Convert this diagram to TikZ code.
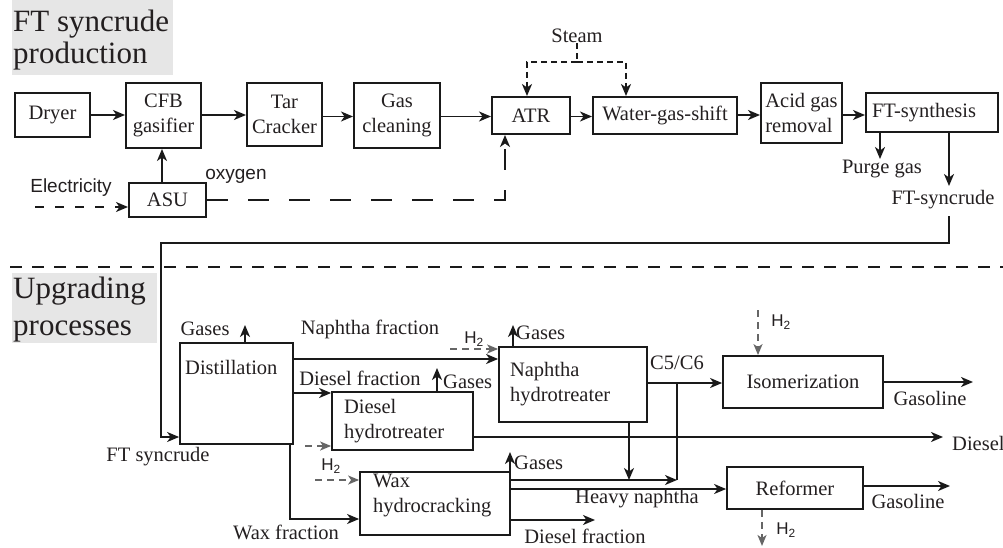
\documentclass[tikz,border=0pt]{standalone}
\usepackage{fontspec}
\setmainfont{Liberation Serif}
\newfontfamily\labsans{Liberation Sans}
\usetikzlibrary{arrows.meta,calc}
\definecolor{txtc}{HTML}{231F20}
\definecolor{linec}{HTML}{1A1A1A}
\definecolor{grayc}{HTML}{666666}
\definecolor{titlebg}{HTML}{E6E6E6}
\begin{document}
\begin{tikzpicture}[x=1pt,y=-1pt,
  font=\fontsize{20.5}{25}\selectfont,
  tx/.style={text=txtc, inner sep=0pt},
  ttl/.style={text=txtc, inner sep=0pt, anchor=base west, font=\fontsize{31}{31}\selectfont},
  sl/.style={text=txtc, inner sep=0pt, font=\labsans\fontsize{19}{22}\selectfont},
  hl/.style={text=txtc, inner sep=0pt, font=\labsans\fontsize{17}{20}\selectfont},
  box/.style={draw=linec, line width=2pt, inner sep=0pt, align=center, text=txtc},
  lbox/.style={draw=linec, line width=1.8pt, inner sep=0pt, text=txtc},
  tip/.style={-{Stealth[length=12pt,width=10pt,inset=3.5pt]}},
  arr/.style={draw=linec, line width=1.8pt, tip},
  ln/.style={draw=linec, line width=1.8pt},
  edash/.style={draw=linec, line width=1.8pt, dash pattern=on 9pt off 11pt},
  ldash/.style={draw=linec, line width=1.8pt, dash pattern=on 21pt off 20pt},
  sdash/.style={draw=linec, line width=1.8pt, dash pattern=on 6pt off 4pt},
  sepdash/.style={draw=linec, line width=1.8pt, dash pattern=on 12pt off 10pt},
  garr/.style={draw=grayc, line width=1.8pt, dash pattern=on 7pt off 5pt, -{Stealth[length=11pt,width=9pt,inset=3pt]}},
]
\useasboundingbox (0,0) rectangle (1003,548);

% ---------- titles ----------
\fill[titlebg] (12,0) rectangle (173,75);
\node[ttl] (t1a) at (13,32) {FT syncrude};
\node[ttl] (t1b) at (13,64) {production};
\fill[titlebg] (12,273) rectangle (157,343);
\node[ttl] (t2a) at (13,298) {Upgrading};
\node[ttl] (t2b) at (13,335) {processes};

% ---------- top boxes ----------
\node[box, minimum width=75pt, minimum height=44pt] (dryer) at (52.5,115) {Dryer};
\node[box, minimum width=75pt, minimum height=65pt] (cfb) at (163.5,115.5) {CFB\\gasifier};
\node[box, minimum width=75pt, minimum height=63pt] (tar) at (284.5,114.5) {Tar\\Cracker};
\node[box, minimum width=86pt, minimum height=65pt] (gasc) at (397,115.5) {Gas\\cleaning};
\node[box, minimum width=78pt, minimum height=37pt] (atr) at (531,115.5) {ATR};
\node[box, minimum width=144pt, minimum height=37pt] (wgs) at (665,115.5) {Water-gas-shift};
\node[box, minimum width=81pt, minimum height=60pt, align=left] (agr) at (801.5,113) {Acid gas\\removal};
\node[box, minimum width=132pt, minimum height=39pt, text width=120pt, align=left] (ft) at (932,112.5) {FT-synthesis};
\node[box, minimum width=77pt, minimum height=34pt] (asu) at (167.5,200) {ASU};

\draw[arr] (dryer.east) -- (dryer.east -| cfb.west);
\draw[arr] (cfb.east |- dryer.east) -- (dryer.east -| tar.west);
\coordinate (r1) at (0,116.5);
\draw[arr] (tar.east |- r1) -- (gasc.west |- r1);
\draw[arr] (gasc.east |- r1) -- (atr.west |- r1);
\draw[arr] (atr.east |- r1) -- (wgs.west |- r1);
\coordinate (r2) at (0,115);
\draw[arr] (wgs.east |- r2) -- (agr.west |- r2);
\draw[arr] (agr.east |- r2) -- (ft.west |- r2);

% ASU, electricity, oxygen
\coordinate (asuUp) at (162,0);
\draw[arr] (asu.north -| asuUp) -- (cfb.south -| asuUp);
\node[sl] (elec) at (71,188) {Electricity};
\node[sl] (oxy) at (236,176) {oxygen};
\coordinate (elS) at (35,207);
\draw[edash, tip] (elS) -- (elS -| asu.west);
\coordinate (oxC) at (505,200);
\draw[ldash, tip] (asu.east |- oxC) -- (oxC) -- (oxC |- atr.south);

% Steam
\node[tx] (steam) at (577,36) {Steam};
\coordinate (stJ) at (577,62);
\coordinate (stL) at (527,62);
\coordinate (stR) at (626,62);
\draw[sdash] (steam.south) -- (stJ);
\draw[sdash, tip] (stJ) -- (stL) -- (stL |- atr.north);
\draw[sdash, tip] (stJ) -- (stR) -- (stR |- wgs.north);

% FT outputs
\node[tx] (purge) at (882,169) {Purge gas};
\coordinate (pg) at (880,159);
\draw[arr] (ft.south -| pg) -- (pg);
\node[tx] (ftsyn) at (943,200) {FT-syncrude};
\coordinate (fsA) at (949,186);
\draw[arr] (ft.south -| fsA) -- (fsA);
\coordinate (fsTop) at (949,216);
\coordinate (fsC1) at (949,243);
\coordinate (fsC2) at (161,243);
\coordinate (fsIn) at (161,437);

% separator
\coordinate (sepL) at (10,267);
\coordinate (sepR) at (1003,267);
\draw[sepdash] (sepL) -- (sepR);

% ---------- lower boxes ----------
\node[lbox, minimum width=113pt, minimum height=101pt] (dist) at (236.5,393.5) {};
\node[tx, anchor=west] (distT) at (185,367) {Distillation};
\node[lbox, minimum width=148pt, minimum height=75pt, text width=126pt, align=left] (nh) at (573,384.5) {Naphtha\\hydrotreater};
\node[lbox, minimum width=141pt, minimum height=58pt, text width=117pt, align=left] (dh) at (402.5,421) {Diesel\\hydrotreater};
\node[lbox, minimum width=150pt, minimum height=63pt] (wh) at (435,503.5) {};
\node[tx, text width=124pt, align=left] (whT) at (435,495.5) {Wax\\hydrocracking};
\node[lbox, minimum width=160pt, minimum height=52pt] (iso) at (803,382) {Isomerization};
\node[lbox, minimum width=136pt, minimum height=42pt] (ref) at (795,488) {Reformer};

% FT syncrude feed
\draw[line width=1.4pt, draw=linec, tip] (fsTop) -- (fsC1) -- (fsC2) -- (fsIn) -- (fsIn -| dist.west);
\node[tx] (ftsL) at (158,457) {FT syncrude};

% distillation outputs
\node[tx] (gas1) at (205,329) {Gases};
\coordinate (g1) at (245,325);
\draw[arr] (dist.north -| g1) -- (g1);
\coordinate (nf) at (0,359);
\draw[arr] (dist.east |- nf) -- (nh.west |- nf);
\node[tx] (nfL) at (370,329) {Naphtha fraction};
\coordinate (df) at (0,393);
\draw[arr] (dist.east |- df) -- (dh.west |- df);
\node[tx] (dfL) at (360,378) {Diesel fraction};
\coordinate (wf1) at (290,519);
\draw[arr] (dist.south -| wf1) -- (wf1) -- (wf1 -| wh.west);
\node[tx] (wfL) at (286,532) {Wax fraction};

% H2 feeds
\coordinate (h1a) at (450,349);
\draw[garr] (h1a) -- (h1a -| nh.west);
\node[hl] (h1) at (474,339) {H\textsubscript{2}};
\coordinate (h2a) at (305,446);
\draw[garr] (h2a) -- (h2a -| dh.west);
\coordinate (h3a) at (315,480);
\draw[garr] (h3a) -- (h3a -| wh.west);
\node[hl] (h3) at (331,466) {H\textsubscript{2}};
\coordinate (h4a) at (758,310);
\draw[garr] (h4a) -- (h4a |- iso.north);
\node[hl] (h4) at (781,322) {H\textsubscript{2}};
\coordinate (h5a) at (762,546);
\draw[garr] (h5a |- ref.south) -- (h5a);
\node[hl] (h5) at (786,530) {H\textsubscript{2}};

% gases from hydrotreaters
\coordinate (g2) at (437,368);
\draw[arr] (dh.north -| g2) -- (g2);
\node[tx, anchor=west] (gas2) at (443,382) {Gases};
\coordinate (g3) at (513,325);
\draw[arr] (nh.north -| g3) -- (g3);
\node[tx, anchor=west] (gas3) at (516,333) {Gases};
\coordinate (g4) at (510,452);
\draw[arr] (wh.north -| g4) -- (g4);
\node[tx, anchor=west] (gas4) at (514,463) {Gases};

% naphtha hydrotreater / wax hydrocracking products
\coordinate (c56) at (0,383);
\draw[arr] (nh.east |- c56) -- (iso.west |- c56);
\node[tx] (c56L) at (677,363) {C5/C6};
\coordinate (lt) at (677,480);
\draw[arr] (wh.east |- lt) -- (lt);
\draw[ln] (lt) -- (lt |- c56);
\coordinate (nd) at (629,480);
\draw[arr] (nd |- nh.south) -- (nd);
\coordinate (hn) at (0,489);
\draw[arr] (wh.east |- hn) -- (ref.west |- hn);
\node[tx] (hnL) at (637,499) {Heavy naphtha};
\coordinate (dfo) at (595,520);
\draw[arr] (wh.east |- dfo) -- (dfo);
\node[tx] (dfoL) at (585,536) {Diesel fraction};

% diesel out
\coordinate (dO) at (943,437);
\draw[arr] (dh.east |- dO) -- (dO);
\node[tx, anchor=west] (dieselL) at (952,443) {Diesel};

% gasoline outs
\coordinate (go1) at (973,382);
\draw[arr] (iso.east |- go1) -- (go1);
\node[tx] (gas1L) at (930,398) {Gasoline};
\coordinate (go2) at (950,486);
\draw[arr] (ref.east |- go2) -- (go2);
\node[tx] (gas2L) at (908,501) {Gasoline};
\end{tikzpicture}
\end{document}
